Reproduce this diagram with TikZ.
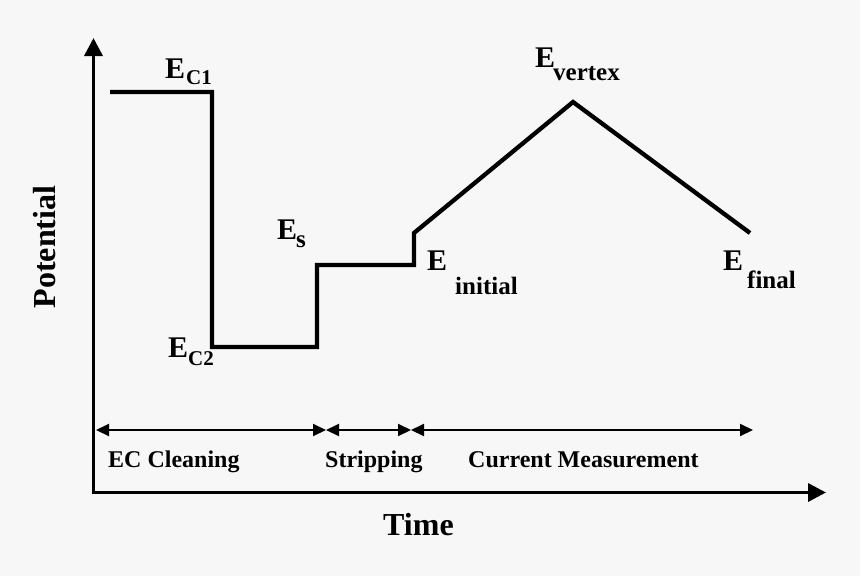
\documentclass[tikz,border=0pt]{standalone}
\usepackage{fontspec}
\setmainfont{Liberation Serif}
\usetikzlibrary{arrows.meta}
\definecolor{bg}{HTML}{F7F7F7}
\begin{document}
\begin{tikzpicture}[x=1pt,y=-1pt,
  bigE/.style={font=\bfseries\fontsize{30}{30}\selectfont, inner sep=0, anchor=base west},
  subC/.style={font=\bfseries\fontsize{21}{21}\selectfont, inner sep=0, anchor=base west},
  subT/.style={font=\bfseries\fontsize{25}{25}\selectfont, inner sep=0, anchor=base west},
  phase/.style={font=\bfseries\fontsize{24}{24}\selectfont, inner sep=0, anchor=base west},
  axtitle/.style={font=\bfseries\fontsize{32}{32}\selectfont, inner sep=0},
  axis/.style={line width=3.5pt, line cap=rect, -{Triangle[length=18pt,width=18pt]}},
  wave/.style={line width=4.3pt, line join=miter},
  span/.style={line width=2pt, {Triangle[length=13pt,width=12pt]}-{Triangle[length=13pt,width=12pt]}}]
\fill[bg] (0,0) rectangle (860,576);
\useasboundingbox (0,0) rectangle (860,576);

% axes
\coordinate (O) at (93.5,492.5);
\coordinate (ytop) at (93.5,38);
\coordinate (xend) at (826,492.5);
\draw[axis] (O) -- (ytop);
\draw[axis] (O) -- (xend);

% waveform
\coordinate (p1) at (110,92);
\coordinate (p2) at (212,92);
\coordinate (p3) at (212,347);
\coordinate (p4) at (317,347);
\coordinate (p5) at (317,265);
\coordinate (p6) at (414,265);
\coordinate (p7) at (414,233);
\coordinate (p8) at (573,102);
\coordinate (p9) at (750,233);
\draw[wave] (p1) -- (p2) -- (p3) -- (p4) -- (p5) -- (p6) -- (p7) -- (p8) -- (p9);

% phase spans
\coordinate (a0) at (96,430);
\coordinate (a1) at (326,430);
\coordinate (a2) at (411,430);
\coordinate (a3) at (753,430);
\draw[span] (a0) -- (a1);
\draw[span] (a1) -- (a2);
\draw[span] (a2) -- (a3);

\node[phase] (ph1) at (108,467) {EC Cleaning};
\node[phase] (ph2) at (325,467) {Stripping};
\node[phase] (ph3) at (468,467) {Current Measurement};

% axis titles
\node[axtitle, anchor=base west] (time) at (383,535) {Time};
\node[axtitle, rotate=90] (pot) at (45,247) {Potential};

% potential labels
\node[bigE] (ec1) at (165,78) {E};
\node[subC] (ec1s) at (186,84) {C1};
\node[bigE] (ec2) at (168,357) {E};
\node[subC] (ec2s) at (188,365) {C2};
\node[bigE] (es) at (277,239) {E};
\node[subT] (ess) at (296,247) {s};
\node[bigE] (ei) at (427,270) {E};
\node[subT] (eis) at (455,294) {initial};
\node[bigE] (ev) at (535,67) {E};
\node[subT] (evs) at (553,80) {vertex};
\node[bigE] (ef) at (723,270) {E};
\node[subT] (efs) at (747,288) {final};
\end{tikzpicture}
\end{document}
